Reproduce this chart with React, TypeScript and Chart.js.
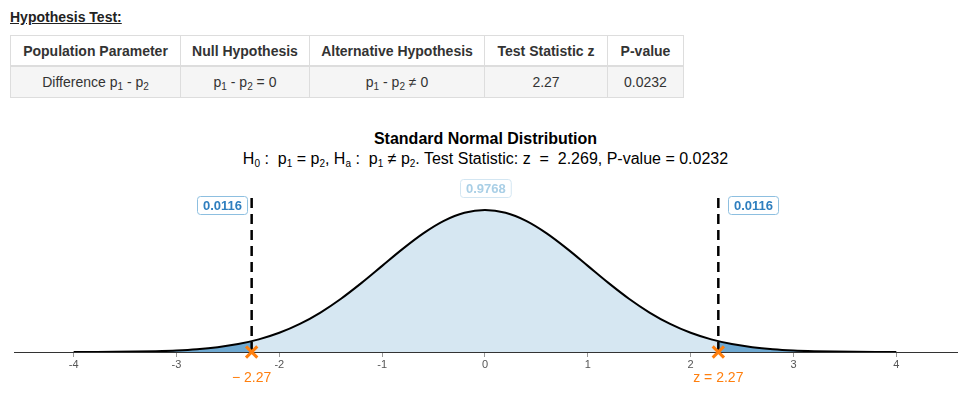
import React, { useEffect, useRef } from "react";
import { Chart, registerables } from "chart.js";

Chart.register(...registerables);

// ---------- data ----------
const zGrid = [
  -4, -3.8, -3.6, -3.4, -3.2, -3, -2.8, -2.6, -2.4, -2.2, -2, -1.8, -1.6, -1.4, -1.2, -1, -0.8, -0.6, -0.4, -0.2,
  0, 0.2, 0.4, 0.6, 0.8, 1, 1.2, 1.4, 1.6, 1.8, 2, 2.2, 2.4, 2.6, 2.8, 3, 3.2, 3.4, 3.6, 3.8, 4,
];
const density = [
  0.0001, 0.0003, 0.0006, 0.0012, 0.0024, 0.0044, 0.0079, 0.0136, 0.0224, 0.0355, 0.054, 0.079, 0.1109, 0.1497,
  0.1942, 0.242, 0.2897, 0.3332, 0.3683, 0.391, 0.3989, 0.391, 0.3683, 0.3332, 0.2897, 0.242, 0.1942, 0.1497, 0.1109,
  0.079, 0.054, 0.0355, 0.0224, 0.0136, 0.0079, 0.0044, 0.0024, 0.0012, 0.0006, 0.0003, 0.0001,
];
const zStat = 2.269;
const zStatDensity = 0.0304;
const tailLabel = "0.0116";
const centerLabel = "0.9768";
const leftZLabel = "\u2212 2.27";
const rightZLabel = "z = 2.27";
const xTicks = [-4, -3, -2, -1, 0, 1, 2, 3, 4];
const dashTop = 0.435;
const tailLabelY = 0.413;
const centerLabelY = 0.461;

const tableHeaders = ["Population Parameter", "Null Hypothesis", "Alternative Hypothesis", "Test Statistic z", "P-value"];
const testStatText = "2.27";
const pValueText = "0.0232";
const colWidths = [170, 129, 175, 123, 76];

const FONT = "'Liberation Sans', Arial, Helvetica, sans-serif";
const ORANGE = "#ff7f0e";

const subStyle: React.CSSProperties = { fontSize: "10px", verticalAlign: "-3px", lineHeight: 0 };

function P({ n }: { n: string }) {
  return (
    <span>
      p<sub style={subStyle}>{n}</sub>
    </span>
  );
}

const labelPlugin = {
  id: "labels",
  afterDatasetsDraw(chart: any) {
    const ctx = chart.ctx;
    const xs = chart.scales.x;
    const ys = chart.scales.y;
    const drawBox = (text: string, x: number, yc: number, anchor: "left" | "right" | "center", textColor: string, borderColor: string) => {
      ctx.save();
      ctx.font = `bold 13px ${FONT}`;
      const w = ctx.measureText(text).width + 11;
      const h = 18;
      let left = x;
      if (anchor === "right") left = x - w;
      if (anchor === "center") left = x - w / 2;
      const top = yc - h / 2;
      ctx.beginPath();
      ctx.roundRect(Math.round(left) + 0.5, Math.round(top) + 0.5, w, h, 3);
      ctx.fillStyle = "#ffffff";
      ctx.fill();
      ctx.strokeStyle = borderColor;
      ctx.lineWidth = 1;
      ctx.stroke();
      ctx.fillStyle = textColor;
      ctx.textAlign = "center";
      ctx.textBaseline = "middle";
      ctx.fillText(text, Math.round(left) + w / 2 + 0.5, Math.round(yc) + 1);
      ctx.restore();
    };
    const xl = xs.getPixelForValue(-zStat);
    const xr = xs.getPixelForValue(zStat);
    const x0 = xs.getPixelForValue(0);
    drawBox(tailLabel, xl - 5, ys.getPixelForValue(tailLabelY), "right", "#2f7fbf", "#8dbfe0");
    drawBox(tailLabel, xr + 10, ys.getPixelForValue(tailLabelY), "left", "#2f7fbf", "#8dbfe0");
    drawBox(centerLabel, x0, ys.getPixelForValue(centerLabelY), "center", "#a9cfe6", "#d3e6f2");

    ctx.save();
    ctx.font = `14px ${FONT}`;
    ctx.fillStyle = ORANGE;
    ctx.textAlign = "center";
    ctx.textBaseline = "middle";
    const yb = ys.getPixelForValue(0) + 26;
    ctx.fillText(leftZLabel, xl, yb);
    ctx.fillText(rightZLabel, xr, yb);
    ctx.restore();
  },
};

function NormalChart() {
  const ref = useRef<HTMLCanvasElement>(null);
  useEffect(() => {
    if (!ref.current) return;
    const curve = zGrid.map((x, i) => ({ x, y: density[i] }));
    const leftTail = [...curve.filter((p) => p.x < -zStat), { x: -zStat, y: zStatDensity }];
    const rightTail = [{ x: zStat, y: zStatDensity }, ...curve.filter((p) => p.x > zStat)];
    const center = [{ x: -zStat, y: zStatDensity }, ...curve.filter((p) => p.x > -zStat && p.x < zStat), { x: zStat, y: zStatDensity }];
    const chart = new Chart(ref.current, {
      type: "line",
      data: {
        datasets: [
          {
            data: [{ x: -zStat, y: 0 }, { x: zStat, y: 0 }],
            showLine: false,
            pointStyle: "crossRot",
            pointRadius: 8,
            pointBorderColor: ORANGE,
            pointBackgroundColor: ORANGE,
            pointBorderWidth: 3,
            clip: false,
            order: 0,
          } as any,
          {
            data: [{ x: -zStat, y: 0 }, { x: -zStat, y: dashTop }],
            borderColor: "#000",
            borderWidth: 2.5,
            borderDash: [10, 6],
            pointRadius: 0,
            fill: false,
            order: 1,
          },
          {
            data: [{ x: zStat, y: 0 }, { x: zStat, y: dashTop }],
            borderColor: "#000",
            borderWidth: 2.5,
            borderDash: [10, 6],
            pointRadius: 0,
            fill: false,
            order: 1,
          },
          {
            data: curve,
            borderColor: "#000",
            borderWidth: 2,
            pointRadius: 0,
            cubicInterpolationMode: "monotone",
            fill: false,
            order: 2,
          },
          {
            data: leftTail,
            borderWidth: 0,
            borderColor: "rgba(0,0,0,0)",
            backgroundColor: "#6fa9d1",
            pointRadius: 0,
            cubicInterpolationMode: "monotone",
            fill: "origin",
            order: 3,
          },
          {
            data: rightTail,
            borderWidth: 0,
            borderColor: "rgba(0,0,0,0)",
            backgroundColor: "#6fa9d1",
            pointRadius: 0,
            cubicInterpolationMode: "monotone",
            fill: "origin",
            order: 3,
          },
          {
            data: center,
            borderWidth: 0,
            borderColor: "rgba(0,0,0,0)",
            backgroundColor: "#d6e7f2",
            pointRadius: 0,
            cubicInterpolationMode: "monotone",
            fill: "origin",
            order: 4,
          },
        ],
      },
      options: {
        animation: false,
        responsive: false,
        devicePixelRatio: 1,
        layout: { autoPadding: false, padding: { left: 14, right: 6, top: 0, bottom: 0 } },
        plugins: {
          legend: { display: false },
          tooltip: { enabled: false },
          title: { display: false },
        },
        scales: {
          x: {
            type: "linear",
            min: -4.58,
            max: 4.59,
            afterBuildTicks: (s: any) => {
              s.ticks = xTicks.map((v) => ({ value: v }));
            },
            afterFit: (s: any) => {
              s.height = 43;
              s.paddingLeft = 0;
              s.paddingRight = 0;
            },
            grid: { drawOnChartArea: false, drawTicks: true, tickLength: 5, color: "#999" },
            border: { display: true, color: "#333", width: 1 },
            ticks: {
              color: "#555",
              padding: 1,
              maxRotation: 0,
              font: { size: 11, family: FONT },
              callback: (v: any) => String(v),
            },
          },
          y: { display: false, min: 0, max: 0.5113 },
        },
      } as any,
      plugins: [labelPlugin],
    });
    return () => chart.destroy();
  }, []);
  return <canvas ref={ref} width={963} height={225} style={{ display: "block", width: 963, height: 225 }} />;
}

export default function App() {
  const th: React.CSSProperties = {
    border: "1px solid #ddd",
    borderBottom: "2px solid #ddd",
    height: 29,
    padding: "0 6px",
    textAlign: "center",
    fontWeight: "bold",
    whiteSpace: "nowrap",
  };
  const td: React.CSSProperties = {
    border: "1px solid #ddd",
    height: 30,
    padding: "0 6px",
    textAlign: "center",
    background: "#f5f5f5",
    whiteSpace: "nowrap",
  };
  return (
    <div style={{ position: "absolute", left: 0, top: 0, width: 963, height: 395, fontFamily: FONT, color: "#333", background: "#fff", overflow: "hidden" }}>
      <div style={{ position: "absolute", left: 10, top: 9, fontSize: 14, lineHeight: "16px", fontWeight: "bold", textDecoration: "underline", color: "#222" }}>
        Hypothesis Test:
      </div>
      <table
        style={{ position: "absolute", left: 10, top: 35, borderCollapse: "collapse", tableLayout: "fixed", width: 673, fontSize: 14, lineHeight: "18px", color: "#333" }}
      >
        <colgroup>
          {colWidths.map((w, i) => (
            <col key={i} style={{ width: w }} />
          ))}
        </colgroup>
        <thead>
          <tr>
            {tableHeaders.map((h) => (
              <th key={h} style={th}>
                {h}
              </th>
            ))}
          </tr>
        </thead>
        <tbody>
          <tr>
            <td style={td}>
              Difference <P n="1" /> - <P n="2" />
            </td>
            <td style={td}>
              <P n="1" /> - <P n="2" /> = 0
            </td>
            <td style={td}>
              <P n="1" /> - <P n="2" /> ≠ 0
            </td>
            <td style={td}>{testStatText}</td>
            <td style={td}>{pValueText}</td>
          </tr>
        </tbody>
      </table>
      <div style={{ position: "absolute", left: 4, top: 130, width: 963, textAlign: "center", fontSize: 16, lineHeight: "18px", fontWeight: "bold", color: "#000" }}>
        Standard Normal Distribution
      </div>
      <div style={{ position: "absolute", left: 4, top: 150, width: 963, textAlign: "center", fontSize: 16, lineHeight: "18px", color: "#000", whiteSpace: "pre" }}>
        H<sub style={subStyle}>0</sub>{" :  "}
        <P n="1" /> = <P n="2" />, H<sub style={subStyle}>a</sub>{" :  "}
        <P n="1" /> ≠ <P n="2" />
        {". Test Statistic: z  =  2.269, P-value = 0.0232"}
      </div>
      <div style={{ position: "absolute", left: 0, top: 170, width: 963, height: 225 }}>
        <NormalChart />
      </div>
    </div>
  );
}
